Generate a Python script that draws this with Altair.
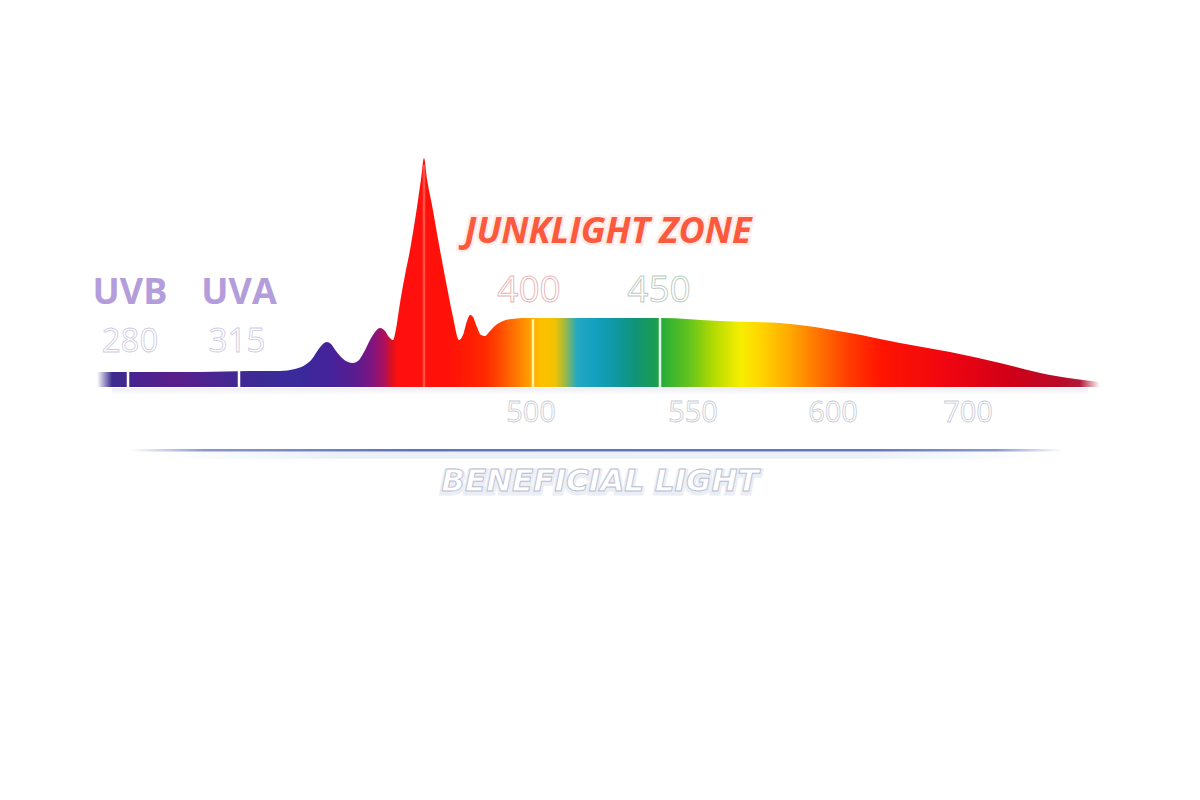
import altair as alt
import pandas as pd

# ---- spectrum profile (position along strip, relative intensity) ----
pos = [97, 110, 150, 200, 250, 280, 295, 305, 312, 318, 323, 327, 331, 336, 342, 348, 353, 358,
       364, 370, 375, 380, 385, 389, 393, 396, 400, 405, 410, 417, 421, 424, 427, 432, 440, 447,
       453, 459, 463, 467, 470, 473, 477, 481, 485, 490, 496, 503, 512, 525, 560, 620, 660, 720,
       780, 850, 900, 950, 1000, 1050, 1083, 1100]
inten = [15, 15, 15, 15, 16, 16, 18, 22, 28, 37, 43, 45, 43, 36, 29, 25, 24, 26,
         35, 47, 55, 59, 56, 50, 47, 58, 84, 112, 137, 180, 208, 229, 208, 182, 137, 100,
         70, 47, 52, 66, 72, 70, 60, 52, 51, 56, 62, 66, 68, 69, 69, 69, 69, 66,
         64, 54, 44, 35, 24, 12, 7, 5]

# ---- colour stops along the strip ----
stop_pos = [97, 112, 140, 175, 215, 260, 300, 330, 355, 372, 385, 392, 398, 450, 485, 500, 515,
            530, 540, 555, 566, 577, 595, 615, 635, 655, 665, 690, 715, 740, 760, 790, 820, 850,
            880, 950, 1010, 1060, 1080, 1100]
stop_col = ["#ffffff", "#3d2c8e", "#4a2290", "#5b1e8a", "#4a2592", "#3b2a96", "#3a2a9c", "#45229a",
            "#5a1c90", "#801580", "#b0105a", "#e0101c", "#ff1010", "#ff1208", "#ff2800", "#ff4a00",
            "#ff7400", "#ffa000", "#ffc000", "#f2c200", "#92b850", "#22a8c2", "#14a0c0", "#0f98a2",
            "#109478", "#1a9c50", "#2eb035", "#66c41c", "#b6dc00", "#f6ee00", "#ffd600", "#ffa800",
            "#ff7000", "#ff3a00", "#ff1500", "#ef0510", "#d00018", "#b80a28", "#b31a3a", "#ffffff"]

# ---- marker lines in the strip ----
tick_pos = [128, 239, 424, 533, 660]
tick_h = [15, 16, 222, 68, 69]
tick_col = ["#ffffff", "#ffffff", "#ff8a7a", "#fff3a0", "#e8fff0"]
tick_op = [1.0, 1.0, 0.55, 1.0, 1.0]

# ---- labels ----
band_txt = ["UVB", "UVA"]
band_x = [130, 239]
band_y = [94, 94]

uv_num_txt = ["280", "315"]
uv_num_x = [130, 237]
uv_num_y = [45, 45]

vis_num_txt = ["400", "450"]
vis_num_x = [529, 659]
vis_num_y = [96, 96]
vis_num_stroke = ["#e6b4b4", "#bccabe"]

low_num_txt = ["500", "550", "600", "700"]
low_num_x = [531, 693, 833, 968]
low_num_y = [-26, -26, -26, -26]

junk_txt = ["JUNKLIGHT ZONE"]
junk_x = [608]
junk_y = [155]

ben_txt = ["BENEFICIAL LIGHT"]
ben_x = [600]
ben_y = [-95]

line_x = [130]
line_x2 = [1062]
line_y = [-62]
line_y2 = [-64.5]

# ---------------------------------------------------------------
xs = alt.Scale(domain=[8, 1192], nice=False, zero=False)
ys = alt.Scale(domain=[-405, 379], nice=False, zero=False)

x0, x1 = min(pos), max(pos)
grad = alt.Gradient(
    gradient="linear",
    stops=[alt.GradientStop(offset=(p - x0) / (x1 - x0), color=c) for p, c in zip(stop_pos, stop_col)],
    x1=0, x2=1, y1=0, y2=0,
)

spec_df = pd.DataFrame({"x": pos, "y": inten})
area = alt.Chart(spec_df).mark_area(color=grad, interpolate="monotone").encode(
    x=alt.X("x:Q", scale=xs, axis=None),
    y=alt.Y("y:Q", scale=ys, axis=None),
)

shadow_df = pd.DataFrame({"x": [112], "x2": [1088], "y": [-1], "y2": [-8]})
shadow = alt.Chart(shadow_df).mark_rect(
    color=alt.Gradient(gradient="linear",
                       stops=[alt.GradientStop(offset=0, color="#e2e2ec"),
                              alt.GradientStop(offset=1, color="#ffffff")],
                       x1=0, x2=0, y1=0, y2=1),
    opacity=0.6,
).encode(x=alt.X("x:Q", scale=xs, axis=None), x2="x2:Q",
         y=alt.Y("y:Q", scale=ys, axis=None), y2="y2:Q")

tick_df = pd.DataFrame({"x": tick_pos, "h": tick_h, "c": tick_col, "o": tick_op,
                        "b": [0] * len(tick_pos)})
ticks = alt.Chart(tick_df).mark_rule(strokeWidth=2.5).encode(
    x=alt.X("x:Q", scale=xs, axis=None),
    y=alt.Y("b:Q", scale=ys, axis=None), y2="h:Q",
    color=alt.Color("c:N", scale=None),
    opacity=alt.Opacity("o:Q", scale=None),
)

line_df = pd.DataFrame({"x": line_x, "x2": line_x2, "y": line_y, "y2": line_y2})
bline = alt.Chart(line_df).mark_rect(
    color=alt.Gradient(gradient="linear",
                       stops=[alt.GradientStop(offset=0, color="#ffffff"),
                              alt.GradientStop(offset=0.08, color="#8898cc"),
                              alt.GradientStop(offset=0.3, color="#5f72bb"),
                              alt.GradientStop(offset=0.8, color="#6677bf"),
                              alt.GradientStop(offset=0.93, color="#8a9ad0"),
                              alt.GradientStop(offset=1, color="#ffffff")],
                       x1=0, x2=1, y1=0, y2=0),
).encode(x=alt.X("x:Q", scale=xs, axis=None), x2="x2:Q",
         y=alt.Y("y:Q", scale=ys, axis=None), y2="y2:Q")

lshadow_df = pd.DataFrame({"x": [160], "x2": [1040], "y": [-64.5], "y2": [-72]})
lshadow = alt.Chart(lshadow_df).mark_rect(
    color=alt.Gradient(gradient="linear",
                       stops=[alt.GradientStop(offset=0, color="#ffffff"),
                              alt.GradientStop(offset=0.2, color="#eef0f8"),
                              alt.GradientStop(offset=0.8, color="#eef0f8"),
                              alt.GradientStop(offset=1, color="#ffffff")],
                       x1=0, x2=1, y1=0, y2=0),
).encode(x=alt.X("x:Q", scale=xs, axis=None), x2="x2:Q",
         y=alt.Y("y:Q", scale=ys, axis=None), y2="y2:Q")


def text_layer(txt, xv, yv, **kw):
    df = pd.DataFrame({"t": txt, "x": xv, "y": yv})
    return alt.Chart(df).mark_text(align="center", baseline="middle", **kw).encode(
        x=alt.X("x:Q", scale=xs, axis=None),
        y=alt.Y("y:Q", scale=ys, axis=None),
        text="t:N",
    )


bands = text_layer(band_txt, band_x, band_y, font="Open Sans", fontSize=36, fontWeight="bold",
                   fill="#b39ddb")
uvnums = text_layer(uv_num_txt, uv_num_x, uv_num_y, font="Open Sans", fontSize=33,
                    fontWeight="normal", fill="#ffffff", stroke="#cdcadf", strokeWidth=0.8)
visdf = pd.DataFrame({"t": vis_num_txt, "x": vis_num_x, "y": vis_num_y, "s": vis_num_stroke})
visnums = alt.Chart(visdf).mark_text(align="center", baseline="middle", font="Open Sans",
                                     fontSize=37, fill="#ffffff", strokeWidth=0.9).encode(
    x=alt.X("x:Q", scale=xs, axis=None), y=alt.Y("y:Q", scale=ys, axis=None), text="t:N",
    stroke=alt.Stroke("s:N", scale=None))
lownums = text_layer(low_num_txt, low_num_x, low_num_y, font="Open Sans", fontSize=29,
                     fill="#ffffff", stroke="#c8ccd6", strokeWidth=0.8)
junk_glow = text_layer(junk_txt, junk_x, junk_y, font="Open Sans", fontSize=36, fontWeight="bold",
                       fontStyle="italic", fill="#ffe0da", stroke="#ffe2dc", strokeWidth=5, opacity=0.6)
junk = text_layer(junk_txt, junk_x, junk_y, font="Open Sans", fontSize=36, fontWeight="bold",
                  fontStyle="italic", fill="#fb5a3e")
ben_glow = text_layer(ben_txt, ben_x, [ben_y[0] - 2], font="DejaVu Sans", fontSize=31,
                      fontWeight="bold", fontStyle="italic", fill="#e6e9f3", stroke="#eceef6",
                      strokeWidth=5)
ben = text_layer(ben_txt, ben_x, ben_y, font="DejaVu Sans", fontSize=31, fontWeight="bold",
                 fontStyle="italic", fill="#ffffff", stroke="#b9bed0", strokeWidth=0.9)

chart = alt.layer(shadow, area, ticks, lshadow, bline, bands, uvnums, visnums, lownums,
                  junk_glow, junk, ben_glow, ben).properties(
    width=1184, height=784, padding=0,
    autosize=alt.AutoSizeParams(type="fit", contains="padding"),
    background="#ffffff",
).configure_view(stroke=None)

chart.save("out.html", embed_options={"renderer": "svg", "actions": False})
